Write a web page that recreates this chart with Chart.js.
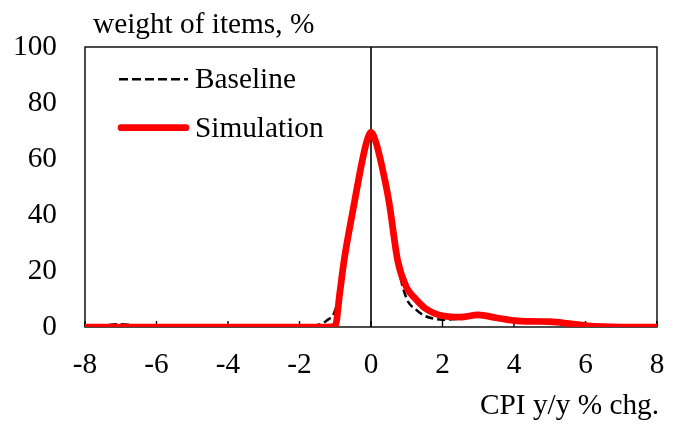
<!DOCTYPE html>
<html><head><meta charset="utf-8">
<script src="https://cdn.jsdelivr.net/npm/chart.js@4"></script>
<style>html,body{margin:0;padding:0;background:#fff;}#wrap{width:681px;height:425px;position:relative;}</style>
</head><body><div id="wrap"><canvas id="c" width="681" height="425"></canvas></div>
<script>
const xValues    = [-8,-7.5,-7,-6.5,-6,-5,-4,-3,-2,-1.5,-1.25,-1,-0.875,-0.75,-0.5,-0.25,-0.125,0,0.125,0.25,0.5,0.75,1,1.25,1.5,1.75,2,2.5,3,3.5,4,4.5,5,5.5,6,6.5,7,8];
const baseline   = [0,0.5,1,0.4,0,0,0,0,0,0.7,2.2,6,13,25,43,59,66,69.5,66,60,43,22,10,6.3,4,3,2.6,3,3.8,3,2,1.8,1.7,1.1,0.4,0.1,0,0];
const simulation = [0,0,0,0,0,0,0,0,0,0,0,0.3,12,24,42,59,66,69.5,66.5,60.5,45,23.5,14,10,6.8,5,4,3.5,4.3,3.3,2.3,2,1.9,1.3,0.5,0.1,0,0];
const xTickLabels = ['-8','-6','-4','-2','0','2','4','6','8'];
const yTickLabels = ['0','20','40','60','80','100'];
const seriesNames = ['Baseline','Simulation'];
const yAxisTitle = 'weight of items, %';
const xAxisTitle = 'CPI y/y % chg.';

const FONT = '"Liberation Serif", "Times New Roman", serif';
const FS = 29.3;
const toPoints = ys => xValues.map((x, i) => ({x: x, y: ys[i]}));

const decor = {
  id: 'decor',
  beforeDatasetsDraw(chart) {
    const {ctx, chartArea: a, scales: {x}} = chart;
    ctx.save();
    ctx.strokeStyle = '#000';
    ctx.lineWidth = 1.4;
    ctx.strokeRect(a.left, a.top, a.right - a.left, a.bottom - a.top);
    const x0 = x.getPixelForValue(0);
    ctx.lineWidth = 1.6;
    ctx.beginPath(); ctx.moveTo(x0, a.top); ctx.lineTo(x0, a.bottom); ctx.stroke();
    ctx.lineWidth = 1.4;
    x.ticks.forEach(t => {
      const px = x.getPixelForValue(t.value);
      ctx.beginPath(); ctx.moveTo(px, a.bottom); ctx.lineTo(px, a.bottom - 6); ctx.stroke();
    });
    ctx.restore();
  },
  afterDraw(chart) {
    const {ctx, chartArea: a} = chart;
    ctx.save();
    ctx.fillStyle = '#000';
    ctx.font = FS + 'px ' + FONT;
    ctx.textBaseline = 'alphabetic';
    ctx.textAlign = 'left';
    ctx.fillText(yAxisTitle, a.left + 8, 33);
    ctx.textAlign = 'right';
    ctx.fillText(xAxisTitle, a.right + 2, 414);
    // legend
    ctx.textAlign = 'left';
    ctx.strokeStyle = '#000';
    ctx.lineWidth = 2.5;
    ctx.setLineDash([9, 4]);
    ctx.beginPath(); ctx.moveTo(119, 79.3); ctx.lineTo(188, 79.3); ctx.stroke();
    ctx.setLineDash([]);
    ctx.strokeStyle = '#ff0000';
    ctx.lineWidth = 6.7;
    ctx.lineCap = 'round';
    ctx.beginPath(); ctx.moveTo(121, 127.7); ctx.lineTo(186, 127.7); ctx.stroke();
    ctx.fillText(seriesNames[0], 195, 88.3);
    ctx.fillText(seriesNames[1], 195, 136.7);
    ctx.restore();
  }
};

new Chart(document.getElementById('c'), {
  type: 'line',
  data: {
    datasets: [
      {label: seriesNames[0], data: toPoints(baseline), borderColor: '#000', borderWidth: 2.5,
       borderDash: [8, 4], pointRadius: 0, cubicInterpolationMode: 'monotone', fill: false, order: 1},
      {label: seriesNames[1], data: toPoints(simulation), borderColor: '#ff0000', borderWidth: 6.7,
       pointRadius: 0, cubicInterpolationMode: 'monotone', fill: false, order: 0, borderJoinStyle: 'round'}
    ]
  },
  options: {
    responsive: false,
    animation: false,
    devicePixelRatio: 1,
    layout: {padding: {top: 47, right: 24, left: 0, bottom: 0}},
    plugins: {legend: {display: false}, tooltip: {enabled: false}, title: {display: false}},
    scales: {
      x: {
        type: 'linear', min: -8, max: 8,
        grid: {display: false, drawTicks: false}, border: {display: false},
        ticks: {stepSize: 2, color: '#000', padding: 21, maxRotation: 0, autoSkip: false,
          font: {family: FONT, size: FS},
          callback: (v, i) => xTickLabels[i]},
        afterFit: s => { s.height = 98; s.paddingLeft = 0; s.paddingRight = 0; }
      },
      y: {
        min: 0, max: 100,
        grid: {display: false, drawTicks: false}, border: {display: false},
        ticks: {stepSize: 20, color: '#000', padding: 28,
          font: {family: FONT, size: FS},
          callback: (v, i) => yTickLabels[i]},
        afterFit: s => { s.width = 85; s.paddingTop = 0; s.paddingBottom = 0; }
      }
    }
  },
  plugins: [decor]
});
</script></body></html>
